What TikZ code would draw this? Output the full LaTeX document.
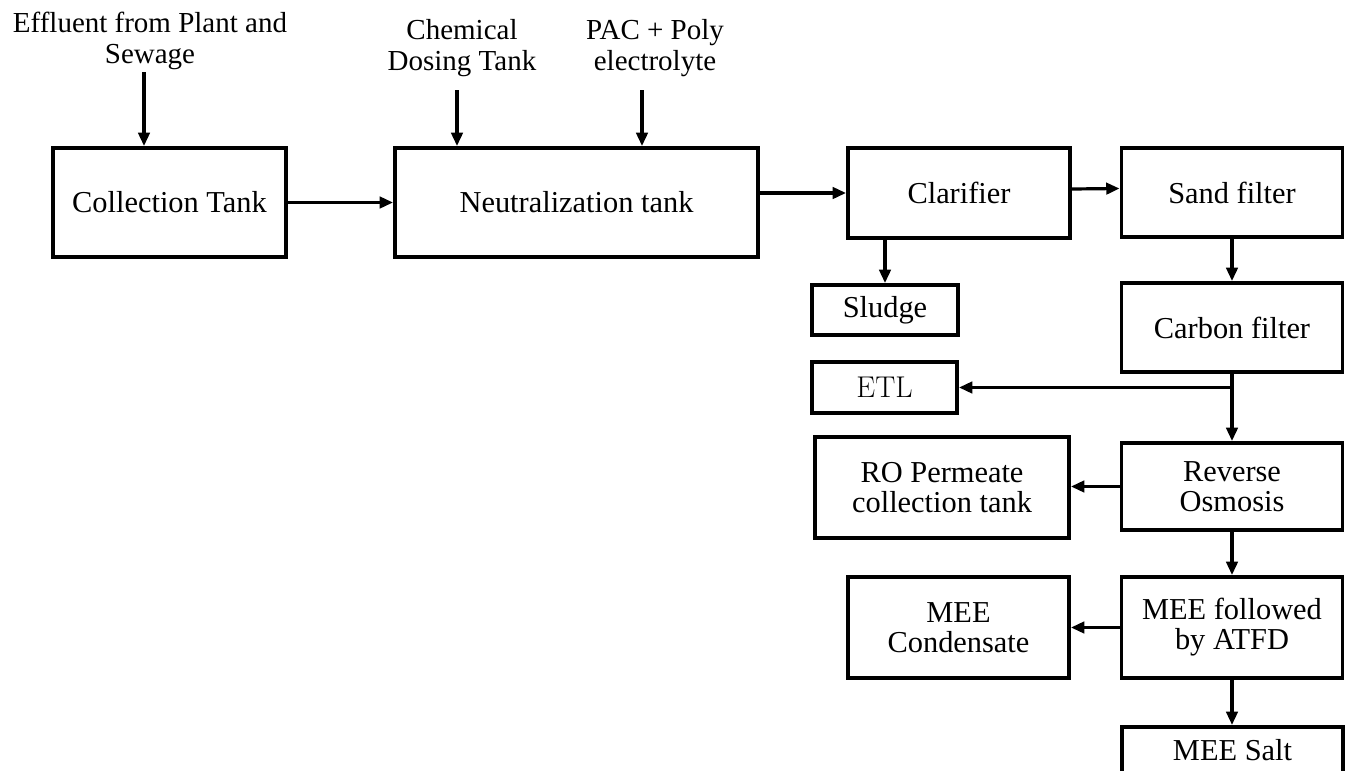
\documentclass[tikz,border=0pt]{standalone}
\usepackage{fontspec}
\setmainfont{Liberation Serif}
\newfontfamily\lmroman{Latin Modern Roman}
\usetikzlibrary{arrows.meta}

\tikzset{
  stage/.style={draw, line width=2.9pt, inner sep=0pt, align=center,
    font={\fontsize{22.8pt}{22.5pt}\selectfont}},
  sz/.style 2 args={minimum width=#1*0.75pt, minimum height=#2*0.75pt},
  feed/.style={inner sep=0pt, align=center,
    font={\fontsize{21.75pt}{23.25pt}\selectfont}},
  flow/.style={line width=2.4pt, -{Triangle[length=10pt,width=8.5pt]}}
}

\begin{document}
\begin{tikzpicture}[x=0.75pt, y=-0.75pt]
\useasboundingbox (0,0) rectangle (1350,771);

% input labels
\node[feed] (eff)  at (150,40.5) {Effluent from Plant and\\Sewage};
\node[feed] (chem) at (462,48) {Chemical\\Dosing Tank};
\node[feed] (pac)  at (655,48) {PAC + Poly\\electrolyte};

% treatment stages
\node[stage, sz={233}{109}] (ct)  at (169.5,202.5) {Collection Tank};
\node[stage, sz={363}{109}] (nt)  at (576.5,202.5) {Neutralization tank};
\node[stage, sz={222}{90}]  (cl)  at (959,193) {Clarifier};
\node[stage, sz={221}{89}]  (sf)  at (1232,192.5) {Sand filter};
\node[stage, sz={146}{50}]  (sl)  at (885,310) {Sludge};
\node[stage, sz={221}{89}]  (cf)  at (1232,327.5) {Carbon filter};
\node[stage, sz={145}{51}, font={\lmroman\fontsize{22.5pt}{22pt}\selectfont}] (etl) at (884.5,387.5) {ETL};
\node[stage, sz={221}{87}]  (ro)  at (1232,486.5) {Reverse\\Osmosis};
\node[stage, sz={254}{101}] (rop) at (942,487.5) {RO Permeate\\collection tank};
\node[stage, sz={221}{101}] (mee) at (1232,627.5) {MEE followed\\by ATFD};
\node[stage, sz={221}{101}] (mc)  at (958.5,627.5) {MEE\\Condensate};
\node[stage, minimum width=221*0.75pt, inner ysep=9pt, text height=16.5pt,
      text depth=30pt, anchor=north] (ms) at (1232.5,725) {MEE Salt};

% feeds into the tanks
\draw[flow] ([xshift=-4.5pt,yshift=-2pt]eff.south) coordinate (e1) -- (e1 |- ct.north);
\draw[flow] ([xshift=-3.75pt,yshift=-10pt]chem.south) coordinate (c1) -- (c1 |- nt.north);
\draw[flow] ([xshift=-9.75pt,yshift=-10pt]pac.south) coordinate (p1) -- (p1 |- nt.north);

% main flow
\draw[flow] (ct) -- (nt);
\draw[flow] (nt.east |- cl) -- (cl);
\draw[flow] ([yshift=3pt]cl.east) -- ([yshift=3pt]sf.west);
\draw[flow] (cl.south -| sl) -- (sl);
\draw[flow] (sf) -- (cf);
\draw[flow] (cf) -- (ro);
\draw[flow] (cf.south |- etl) -- (etl);
\draw[flow] (ro.west) -- (ro.west -| rop.east);
\draw[flow] (ro) -- (mee);
\draw[flow] (mee) -- (mc);
\draw[flow] (mee.south) -- (mee.south |- ms.north);
\end{tikzpicture}
\end{document}
